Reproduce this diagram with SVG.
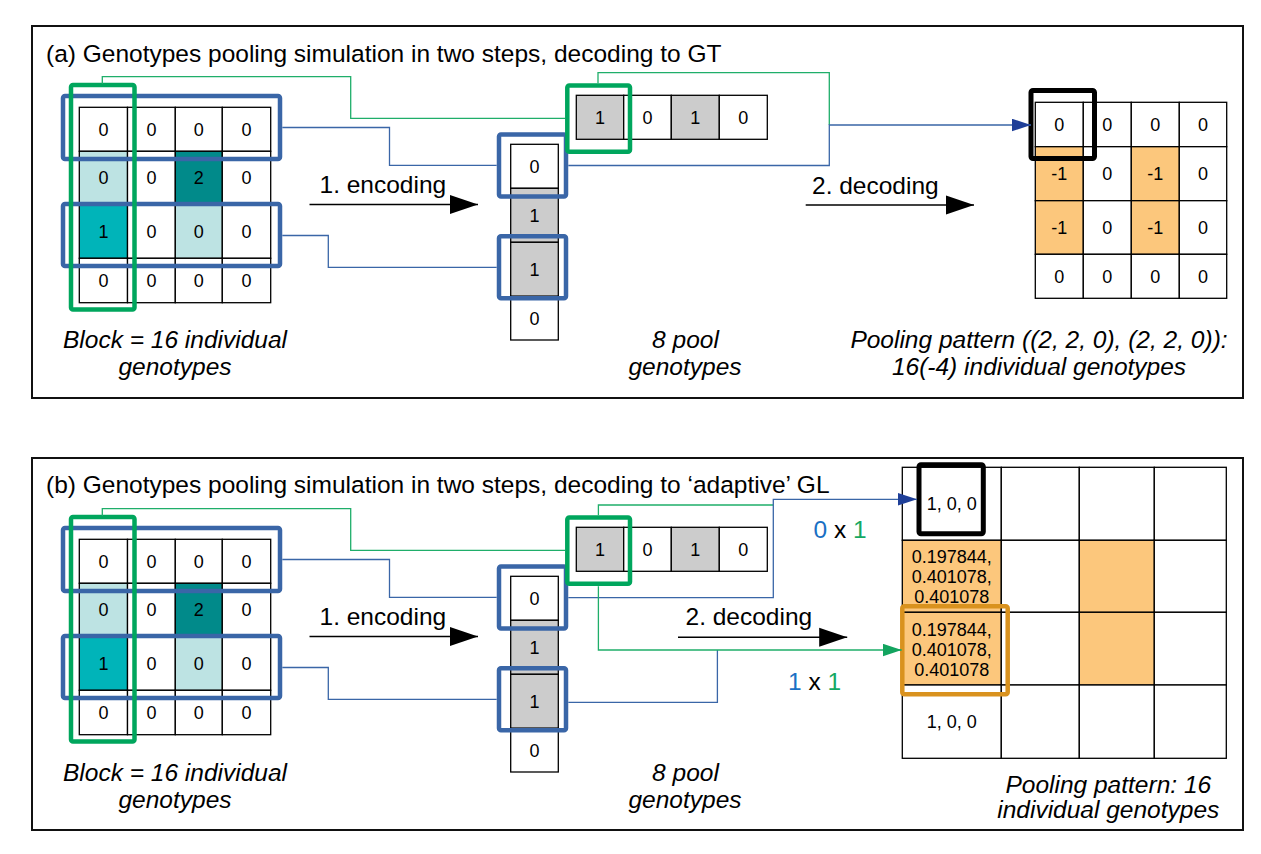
<svg xmlns="http://www.w3.org/2000/svg" width="1261" height="854" viewBox="0 0 1261 854">
<style>
.frame{fill:#fff;stroke:#111;stroke-width:2}
.cell{stroke:#000;stroke-width:1.3}
.w{fill:#fff}.g{fill:#cccccc}.lc{fill:#bde3e3}.dt{fill:#018a8a}.cy{fill:#00b4b9}.or{fill:#fcc77c}
.bbox{fill:none;stroke:#3a66a7;stroke-width:4.5}
.gbox{fill:none;stroke:#00a65d;stroke-width:4.5}
.kbox{fill:none;stroke:#000;stroke-width:5}
.obox{fill:none;stroke:#d9921e;stroke-width:4.5}
.cb{fill:none;stroke:#3a66a7;stroke-width:1.3}
.cg{fill:none;stroke:#1fae6a;stroke-width:1.3}
.arr{stroke:#000;stroke-width:1.5}
text{font-family:"Liberation Sans",Arial,sans-serif;fill:#000}
.t{font-size:24.5px}
.it{font-size:24.5px;font-style:italic;text-anchor:middle}
.c{font-size:18px;text-anchor:middle}
.bl{fill:#1a70c4}.gr{fill:#15a862}
</style>
<defs>
<marker id="ah" markerUnits="userSpaceOnUse" markerWidth="29" markerHeight="20" refX="28" refY="10" orient="auto"><path d="M0,0.5 L28,10 L0,19.5Z" fill="#000"/></marker>
<marker id="ahb" markerUnits="userSpaceOnUse" markerWidth="20" markerHeight="13" refX="19" refY="6.3" orient="auto"><path d="M0,0 L19,6.3 L0,12.6Z" fill="#1f3f98"/></marker>
<marker id="ahg" markerUnits="userSpaceOnUse" markerWidth="20" markerHeight="13" refX="19" refY="6.3" orient="auto"><path d="M0,0 L19,6.3 L0,12.6Z" fill="#13a45f"/></marker>
</defs>

<!-- ===== Panel (a) ===== -->
<g id="panel-a">
<rect class="frame" x="32" y="26" width="1211" height="372"/>
<text class="t" x="46" y="62">(a) Genotypes pooling simulation in two steps, decoding to GT</text>
</g>

<g id="a-block">
<rect class="cell w" x="79.3" y="107.3" width="48.2" height="44"/>
<rect class="cell w" x="127.5" y="107.3" width="47.8" height="44"/>
<rect class="cell w" x="175.3" y="107.3" width="47" height="44"/>
<rect class="cell w" x="222.3" y="107.3" width="48.4" height="44"/>
<rect class="cell lc" x="79.3" y="151.3" width="48.2" height="53"/>
<rect class="cell w" x="127.5" y="151.3" width="47.8" height="53"/>
<rect class="cell dt" x="175.3" y="151.3" width="47" height="53"/>
<rect class="cell w" x="222.3" y="151.3" width="48.4" height="53"/>
<rect class="cell cy" x="79.3" y="204.3" width="48.2" height="54"/>
<rect class="cell w" x="127.5" y="204.3" width="47.8" height="54"/>
<rect class="cell lc" x="175.3" y="204.3" width="47" height="54"/>
<rect class="cell w" x="222.3" y="204.3" width="48.4" height="54"/>
<rect class="cell w" x="79.3" y="258.3" width="48.2" height="44.4"/>
<rect class="cell w" x="127.5" y="258.3" width="47.8" height="44.4"/>
<rect class="cell w" x="175.3" y="258.3" width="47" height="44.4"/>
<rect class="cell w" x="222.3" y="258.3" width="48.4" height="44.4"/>
<text class="c" x="103.4" y="135.7">0</text><text class="c" x="151.4" y="135.7">0</text><text class="c" x="198.8" y="135.7">0</text><text class="c" x="246.5" y="135.7">0</text>
<text class="c" x="103.4" y="184.2">0</text><text class="c" x="151.4" y="184.2">0</text><text class="c" x="198.8" y="184.2">2</text><text class="c" x="246.5" y="184.2">0</text>
<text class="c" x="103.4" y="237.7">1</text><text class="c" x="151.4" y="237.7">0</text><text class="c" x="198.8" y="237.7">0</text><text class="c" x="246.5" y="237.7">0</text>
<text class="c" x="103.4" y="286.9">0</text><text class="c" x="151.4" y="286.9">0</text><text class="c" x="198.8" y="286.9">0</text><text class="c" x="246.5" y="286.9">0</text>
<rect class="bbox" x="63" y="96" width="217" height="63" rx="2"/>
<rect class="bbox" x="63" y="204" width="217" height="62" rx="2"/>
<rect class="gbox" x="71" y="85" width="63.5" height="224.5" rx="2"/>
</g>

<g id="a-pool-col">
<rect class="cell w" x="510.7" y="144.3" width="47.6" height="44"/>
<rect class="cell g" x="510.7" y="188.3" width="47.6" height="54"/>
<rect class="cell g" x="510.7" y="242.3" width="47.6" height="54"/>
<rect class="cell w" x="510.7" y="296.3" width="47.6" height="43.7"/>
<text class="c" x="534.5" y="172.7">0</text>
<text class="c" x="534.5" y="221.7">1</text>
<text class="c" x="534.5" y="275.7">1</text>
<text class="c" x="534.5" y="324.6">0</text>
<rect class="bbox" x="499" y="134.5" width="67" height="62" rx="2"/>
<rect class="bbox" x="499" y="236.3" width="67" height="62" rx="2"/>
</g>

<g id="a-pool-row">
<rect class="cell g" x="576.3" y="95.3" width="47.4" height="44"/>
<rect class="cell w" x="623.7" y="95.3" width="47.6" height="44"/>
<rect class="cell g" x="671.3" y="95.3" width="48" height="44"/>
<rect class="cell w" x="719.3" y="95.3" width="48" height="44"/>
<text class="c" x="600" y="123.7">1</text>
<text class="c" x="647.5" y="123.7">0</text>
<text class="c" x="695.3" y="123.7">1</text>
<text class="c" x="743.3" y="123.7">0</text>
<rect class="gbox" x="567.3" y="85.5" width="62.7" height="66.3" rx="2"/>
</g>

<g id="a-decoded">
<rect class="cell w" x="1035.3" y="102.3" width="48" height="44.4"/>
<rect class="cell w" x="1083.3" y="102.3" width="48" height="44.4"/>
<rect class="cell w" x="1131.3" y="102.3" width="48" height="44.4"/>
<rect class="cell w" x="1179.3" y="102.3" width="47.4" height="44.4"/>
<rect class="cell or" x="1035.3" y="146.7" width="48" height="54"/>
<rect class="cell w" x="1083.3" y="146.7" width="48" height="54"/>
<rect class="cell or" x="1131.3" y="146.7" width="48" height="54"/>
<rect class="cell w" x="1179.3" y="146.7" width="47.4" height="54"/>
<rect class="cell or" x="1035.3" y="200.7" width="48" height="53.6"/>
<rect class="cell w" x="1083.3" y="200.7" width="48" height="53.6"/>
<rect class="cell or" x="1131.3" y="200.7" width="48" height="53.6"/>
<rect class="cell w" x="1179.3" y="200.7" width="47.4" height="53.6"/>
<rect class="cell w" x="1035.3" y="254.3" width="48" height="44"/>
<rect class="cell w" x="1083.3" y="254.3" width="48" height="44"/>
<rect class="cell w" x="1131.3" y="254.3" width="48" height="44"/>
<rect class="cell w" x="1179.3" y="254.3" width="47.4" height="44"/>
<text class="c" x="1059.3" y="130.9">0</text><text class="c" x="1107.3" y="130.9">0</text><text class="c" x="1155.3" y="130.9">0</text><text class="c" x="1203" y="130.9">0</text>
<text class="c" x="1059.3" y="180.1">-1</text><text class="c" x="1107.3" y="180.1">0</text><text class="c" x="1155.3" y="180.1">-1</text><text class="c" x="1203" y="180.1">0</text>
<text class="c" x="1059.3" y="233.9">-1</text><text class="c" x="1107.3" y="233.9">0</text><text class="c" x="1155.3" y="233.9">-1</text><text class="c" x="1203" y="233.9">0</text>
<text class="c" x="1059.3" y="282.7">0</text><text class="c" x="1107.3" y="282.7">0</text><text class="c" x="1155.3" y="282.7">0</text><text class="c" x="1203" y="282.7">0</text>
<rect class="kbox" x="1031" y="90.5" width="63.5" height="68" rx="2"/>
</g>

<g id="a-labels">
<text class="t" x="319.5" y="193">1. encoding</text>
<text class="t" x="812" y="194">2. decoding</text>
<text class="it" x="175" y="348.3">Block = 16 individual</text>
<text class="it" x="175" y="375">genotypes</text>
<text class="it" x="685.5" y="348.3">8 pool</text>
<text class="it" x="685" y="375">genotypes</text>
<text class="it" x="1039" y="348.3">Pooling pattern ((2, 2, 0), (2, 2, 0)):</text>
<text class="it" x="1039" y="375">16(-4) individual genotypes</text>
</g>

<g id="a-connectors">
<line class="arr" x1="309.5" y1="204.5" x2="478" y2="204.5" marker-end="url(#ah)"/>
<line class="arr" x1="805.7" y1="205" x2="974" y2="205" marker-end="url(#ah)"/>
<path class="cg" d="M102.3,84 V76.7 H350.7 V118.3 H565"/>
<path class="cg" d="M598,83.3 V72.7 H829.3 V125"/>
<path class="cb" d="M282.3,127.5 H389.5 V165.3 H496.7"/>
<path class="cb" d="M282.3,235.5 H328.3 V267.3 H496.7"/>
<path class="cb" d="M568.3,165.5 H829.3 V125 H1031" stroke="#2f6a9f" marker-end="url(#ahb)"/>
</g>

<!-- ===== Panel (b) ===== -->
<g id="panel-b">
<rect class="frame" x="32" y="458" width="1211" height="372"/>
<text class="t" x="46" y="493">(b) Genotypes pooling simulation in two steps, decoding to ‘adaptive’ GL</text>
</g>

<g id="b-block" transform="translate(0,432)">
<rect class="cell w" x="79.3" y="107.3" width="48.2" height="44"/>
<rect class="cell w" x="127.5" y="107.3" width="47.8" height="44"/>
<rect class="cell w" x="175.3" y="107.3" width="47" height="44"/>
<rect class="cell w" x="222.3" y="107.3" width="48.4" height="44"/>
<rect class="cell lc" x="79.3" y="151.3" width="48.2" height="53"/>
<rect class="cell w" x="127.5" y="151.3" width="47.8" height="53"/>
<rect class="cell dt" x="175.3" y="151.3" width="47" height="53"/>
<rect class="cell w" x="222.3" y="151.3" width="48.4" height="53"/>
<rect class="cell cy" x="79.3" y="204.3" width="48.2" height="54"/>
<rect class="cell w" x="127.5" y="204.3" width="47.8" height="54"/>
<rect class="cell lc" x="175.3" y="204.3" width="47" height="54"/>
<rect class="cell w" x="222.3" y="204.3" width="48.4" height="54"/>
<rect class="cell w" x="79.3" y="258.3" width="48.2" height="44.4"/>
<rect class="cell w" x="127.5" y="258.3" width="47.8" height="44.4"/>
<rect class="cell w" x="175.3" y="258.3" width="47" height="44.4"/>
<rect class="cell w" x="222.3" y="258.3" width="48.4" height="44.4"/>
<text class="c" x="103.4" y="135.7">0</text><text class="c" x="151.4" y="135.7">0</text><text class="c" x="198.8" y="135.7">0</text><text class="c" x="246.5" y="135.7">0</text>
<text class="c" x="103.4" y="184.2">0</text><text class="c" x="151.4" y="184.2">0</text><text class="c" x="198.8" y="184.2">2</text><text class="c" x="246.5" y="184.2">0</text>
<text class="c" x="103.4" y="237.7">1</text><text class="c" x="151.4" y="237.7">0</text><text class="c" x="198.8" y="237.7">0</text><text class="c" x="246.5" y="237.7">0</text>
<text class="c" x="103.4" y="286.9">0</text><text class="c" x="151.4" y="286.9">0</text><text class="c" x="198.8" y="286.9">0</text><text class="c" x="246.5" y="286.9">0</text>
<rect class="bbox" x="63" y="96" width="217" height="63" rx="2"/>
<rect class="bbox" x="63" y="204" width="217" height="62" rx="2"/>
<rect class="gbox" x="71" y="85" width="63.5" height="224.5" rx="2"/>
</g>

<g id="b-pool-col" transform="translate(0,432)">
<rect class="cell w" x="510.7" y="144.3" width="47.6" height="44"/>
<rect class="cell g" x="510.7" y="188.3" width="47.6" height="54"/>
<rect class="cell g" x="510.7" y="242.3" width="47.6" height="54"/>
<rect class="cell w" x="510.7" y="296.3" width="47.6" height="43.7"/>
<text class="c" x="534.5" y="172.7">0</text>
<text class="c" x="534.5" y="221.7">1</text>
<text class="c" x="534.5" y="275.7">1</text>
<text class="c" x="534.5" y="324.6">0</text>
<rect class="bbox" x="499" y="134.5" width="67" height="62" rx="2"/>
<rect class="bbox" x="499" y="236.3" width="67" height="62" rx="2"/>
</g>

<g id="b-pool-row" transform="translate(0,432)">
<rect class="cell g" x="576.3" y="95.3" width="47.4" height="44"/>
<rect class="cell w" x="623.7" y="95.3" width="47.6" height="44"/>
<rect class="cell g" x="671.3" y="95.3" width="48" height="44"/>
<rect class="cell w" x="719.3" y="95.3" width="48" height="44"/>
<text class="c" x="600" y="123.7">1</text>
<text class="c" x="647.5" y="123.7">0</text>
<text class="c" x="695.3" y="123.7">1</text>
<text class="c" x="743.3" y="123.7">0</text>
<rect class="gbox" x="567.3" y="85.5" width="62.7" height="66.3" rx="2"/>
</g>

<g id="b-decoded">
<rect class="cell w" x="902.3" y="467.3" width="99" height="73"/>
<rect class="cell w" x="1001.3" y="467.3" width="78" height="73"/>
<rect class="cell w" x="1079.3" y="467.3" width="75" height="73"/>
<rect class="cell w" x="1154.3" y="467.3" width="72" height="73"/>
<rect class="cell or" x="902.3" y="540.3" width="99" height="72"/>
<rect class="cell w" x="1001.3" y="540.3" width="78" height="72"/>
<rect class="cell or" x="1079.3" y="540.3" width="75" height="72"/>
<rect class="cell w" x="1154.3" y="540.3" width="72" height="72"/>
<rect class="cell or" x="902.3" y="612.3" width="99" height="72.7"/>
<rect class="cell w" x="1001.3" y="612.3" width="78" height="72.7"/>
<rect class="cell or" x="1079.3" y="612.3" width="75" height="72.7"/>
<rect class="cell w" x="1154.3" y="612.3" width="72" height="72.7"/>
<rect class="cell w" x="902.3" y="685" width="99" height="73.3"/>
<rect class="cell w" x="1001.3" y="685" width="78" height="73.3"/>
<rect class="cell w" x="1079.3" y="685" width="75" height="73.3"/>
<rect class="cell w" x="1154.3" y="685" width="72" height="73.3"/>
<text class="c" x="951.8" y="510">1, 0, 0</text>
<text class="c" x="951.8" y="563.3">0.197844,</text>
<text class="c" x="951.8" y="583.3">0.401078,</text>
<text class="c" x="951.8" y="603.3">0.401078</text>
<text class="c" x="951.8" y="635.5">0.197844,</text>
<text class="c" x="951.8" y="655.5">0.401078,</text>
<text class="c" x="951.8" y="675.5">0.401078</text>
<text class="c" x="951.8" y="727.7">1, 0, 0</text>
<rect class="kbox" x="919" y="464.8" width="64.3" height="69" rx="2"/>
<rect class="obox" x="902.3" y="606.3" width="105.4" height="88" rx="2"/>
</g>

<g id="b-labels">
<text class="t" x="319.5" y="625">1. encoding</text>
<text class="t" x="685.5" y="625">2. decoding</text>
<text class="t" x="813.5" y="537.7"><tspan class="bl">0</tspan> x <tspan class="gr">1</tspan></text>
<text class="t" x="788" y="690"><tspan class="bl">1</tspan> x <tspan class="gr">1</tspan></text>
<text class="it" x="175" y="780.5">Block = 16 individual</text>
<text class="it" x="175" y="807.5">genotypes</text>
<text class="it" x="685.5" y="780.5">8 pool</text>
<text class="it" x="685" y="807.5">genotypes</text>
<text class="it" x="1108.3" y="792.7">Pooling pattern: 16</text>
<text class="it" x="1108.3" y="818.3">individual genotypes</text>
</g>

<g id="b-connectors">
<line class="arr" x1="309.5" y1="636.5" x2="478" y2="636.5" marker-end="url(#ah)"/>
<line class="arr" x1="678" y1="637.3" x2="847.2" y2="637.3" marker-end="url(#ah)"/>
<path class="cg" d="M102.3,516 V508.7 H350.7 V550.3 H565"/>
<path class="cb" d="M282.3,559.5 H389.5 V597.3 H496.7"/>
<path class="cb" d="M282.3,667.5 H328.3 V699.3 H496.7"/>
<path class="cg" d="M598.4,515.3 V505 H773.3"/>
<path class="cb" d="M568.3,597.7 H773.3 V499.3 H917" marker-end="url(#ahb)"/>
<path class="cb" d="M568.3,702.3 H717.4 V650"/>
<path class="cg" d="M598.4,586.3 V650 H901.7" marker-end="url(#ahg)"/>
</g>
</svg>
